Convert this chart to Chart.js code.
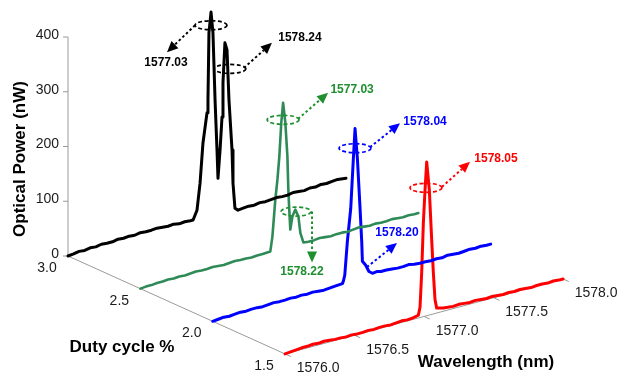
<!DOCTYPE html>
<html><head><meta charset="utf-8">
<script src="https://cdn.jsdelivr.net/npm/chart.js@4/dist/chart.umd.min.js"></script>
<style>html,body{margin:0;padding:0;background:#fff;}#wrap{width:620px;height:373px;}</style>
</head><body><div id="wrap"><canvas id="c" width="620" height="373"></canvas></div>
<script>
// ---------------- data ----------------
const dutyCycles = [3.0, 2.5, 2.0, 1.5];
const seriesColors = ['#000000', '#2e8b57', '#0000ff', '#ff0000'];

const wl30 = [1576.00,1576.04,1576.08,1576.12,1576.16,1576.20,1576.24,1576.28,1576.32,1576.36,1576.40,1576.44,1576.48,1576.52,1576.56,1576.60,1576.64,1576.68,1576.72,1576.76,1576.80,1576.84,1576.88,
  1576.90,1576.928,1576.95,1576.971,1577.000,1577.007,1577.014,1577.029,1577.043,1577.058,1577.072,1577.079,1577.094,1577.108,1577.115,1577.129,1577.144,1577.158,1577.180,1577.187,1577.201,1577.223,
  1577.26,1577.30,1577.34,1577.38,1577.42,1577.46,1577.50,1577.54,1577.58,1577.62,1577.66,1577.70,1577.74,1577.78,1577.82,1577.86,1577.90,1577.94,1578.00];
const pw30 = [0,1,3,2,4,3,5,4,4,6,5,6,5,7,6,6,7,6,5,6,4,5,4,
  4,20,68,140,193,216,338,375,336,212,120,68,119,178,240,312,298,206,113,52,5,0,
  1,2,1,3,2,3,4,3,3,5,4,3,5,4,6,5,6,7,5];

const wl25 = [1576.00,1576.04,1576.08,1576.12,1576.16,1576.20,1576.24,1576.28,1576.32,1576.36,1576.40,1576.44,1576.48,1576.52,1576.56,1576.60,1576.64,1576.68,1576.72,1576.76,1576.80,1576.84,1576.88,
  1576.935,1576.950,1576.971,1576.986,1577.000,1577.014,1577.027,1577.043,1577.058,1577.064,1577.070,1577.079,1577.094,1577.115,1577.137,1577.151,1577.173,1577.209,
  1577.25,1577.29,1577.33,1577.37,1577.41,1577.45,1577.49,1577.53,1577.57,1577.61,1577.65,1577.69,1577.73,1577.77,1577.81,1577.85,1577.89,1577.93,1577.97,1578.00];
const pw25 = [0,1,1,2,2,3,2,3,2,3,4,3,3,4,3,2,3,4,3,3,2,3,3,
  4,30,96,131,173,234,269,232,169,113,77,34,57,68,54,23,4,3,
  3,4,3,2,3,3,2,3,4,3,2,3,2,2,3,2,1,2,1,1];

const wl20 = [1576.00,1576.04,1576.08,1576.12,1576.16,1576.20,1576.24,1576.28,1576.32,1576.36,1576.40,1576.44,1576.48,1576.52,1576.56,1576.60,1576.64,1576.68,1576.72,1576.76,1576.80,1576.84,1576.88,
  1576.933,1576.940,1576.950,1576.969,1576.993,1577.012,1577.024,1577.041,1577.060,1577.072,1577.077,1577.101,1577.124,1577.149,
  1577.18,1577.21,1577.25,1577.29,1577.33,1577.37,1577.41,1577.45,1577.49,1577.53,1577.57,1577.61,1577.65,1577.69,1577.73,1577.77,1577.81,1577.85,1577.89,1577.93,1577.97,1578.00];
const pw20 = [0,1,2,1,2,3,2,3,3,2,3,4,3,3,4,3,4,3,4,3,2,3,4,
  5,9,19,80,138,228,282,226,134,73,36,27,14,9,
  10,8,8,7,6,6,7,5,4,4,3,4,3,5,4,3,4,5,4,5,4,4];

const wl15 = [1576.00,1576.04,1576.08,1576.12,1576.16,1576.20,1576.24,1576.28,1576.32,1576.36,1576.40,1576.44,1576.48,1576.52,1576.56,1576.60,1576.64,1576.68,1576.72,1576.76,1576.80,1576.84,1576.88,1576.92,
  1576.959,1576.971,1576.983,1576.995,1577.007,1577.019,1577.038,1577.055,1577.067,1577.079,1577.091,1577.139,
  1577.17,1577.21,1577.25,1577.29,1577.33,1577.37,1577.41,1577.45,1577.49,1577.53,1577.57,1577.61,1577.65,1577.69,1577.73,1577.77,1577.81,1577.85,1577.89,1577.93,1577.97,1578.00];
const pw15 = [0,1,2,3,3,4,3,4,3,2,2,1,2,1,1,2,1,2,2,1,2,3,2,3,
  5,19,81,171,230,281,228,136,75,25,9,6,
  5,4,5,4,3,4,3,2,3,2,1,2,1,2,1,0,1,1,0,1,0,0];

const seriesWl = [wl30, wl25, wl20, wl15];
const seriesPw = [pw30, pw25, pw20, pw15];

const powerTicks = [0, 100, 200, 300, 400];
const dutyTicks = [3.0, 2.5, 2.0, 1.5];
const wavelengthTicks = [1576.0, 1576.5, 1577.0, 1577.5, 1578.0];
const peakLabels = ['1577.03', '1578.24', '1577.03', '1578.22', '1578.04', '1578.20', '1578.05'];
const peakDuty   = [3.0, 3.0, 2.5, 2.5, 2.0, 2.0, 1.5];
const peakWl     = [1577.029, 1577.165, 1577.027, 1577.12, 1577.024, 1577.11, 1577.014];
const peakPower  = [351, 262, 238, 64, 246, 23, 234];

// ---------------- view (oblique projection) ----------------
const VIEW = {x0: 68, y0: 256, kxl: 139, kyl: 37.5, kxd: 144.7, kyd: 65.3, kp: 0.5475, wl0: 1576, d0: 3.0};
function proj(wl, d, p) {
  const a = wl - VIEW.wl0, b = VIEW.d0 - d;
  return {x: VIEW.x0 + a * VIEW.kxl + b * VIEW.kxd, y: VIEW.y0 - p * VIEW.kp - a * VIEW.kyl + b * VIEW.kyd};
}
const annColors = ['#000000', '#000000', '#1f8f2f', '#1f8f2f', '#0000ff', '#0000ff', '#ff0000'];
const annLayout = [
  {rx: 16, from: [-16, 0], tip: [-44, 27], label: [-45, 37]},
  {rx: 16, from: [14, -1], tip: [42, -26], label: [70, -31]},
  {rx: 16, from: [15, -1], tip: [45, -27], label: [69, -30]},
  {rx: 15, from: [16, 0], tip: [16, 51], label: [6, 60], drop: true},
  {rx: 16, from: [15, -1], tip: [45, -25], label: [70, -27]},
  {rx: 0, from: [0, 0], tip: [30, -24], label: [30, -34]},
  {rx: 16, from: [16, -1], tip: [44, -26], label: [70, -29]}
];

const datasets = dutyCycles.map((d, i) => ({
  label: d.toFixed(1) + ' %',
  data: seriesWl[i].map((w, k) => proj(w, d, seriesPw[i][k])),
  borderColor: seriesColors[i],
  borderWidth: i === 1 ? 2.6 : 3,
  pointRadius: 0,
  showLine: true,
  tension: 0,
  fill: false,
  borderJoinStyle: 'round',
  borderCapStyle: 'round',
  clip: false
}));

const FONT = '"Liberation Sans", Arial, sans-serif';

function px(chart, p) {
  return {x: chart.scales.x.getPixelForValue(p.x), y: chart.scales.y.getPixelForValue(p.y)};
}

const axesPlugin = {
  id: 'axes3d',
  beforeDatasetsDraw(chart) {
    const ctx = chart.ctx;
    ctx.save();
    ctx.strokeStyle = '#9a9a9a';
    ctx.lineWidth = 1;
    // power axis
    let a = px(chart, proj(1576, 3.0, 0)), b = px(chart, proj(1576, 3.0, 400));
    ctx.beginPath(); ctx.moveTo(a.x, a.y); ctx.lineTo(b.x, b.y); ctx.stroke();
    ctx.fillStyle = '#1a1a1a';
    ctx.font = '14px ' + FONT;
    ctx.textAlign = 'right'; ctx.textBaseline = 'middle';
    powerTicks.forEach(t => {
      const q = px(chart, proj(1576, 3.0, t));
      ctx.beginPath(); ctx.moveTo(q.x - 5, q.y); ctx.lineTo(q.x, q.y); ctx.stroke();
      ctx.fillText(String(t), q.x - 9, q.y - 2);
    });
    // duty axis
    a = px(chart, proj(1576, 3.0, 0)); b = px(chart, proj(1576, 1.5, 0));
    ctx.beginPath(); ctx.moveTo(a.x, a.y); ctx.lineTo(b.x, b.y); ctx.stroke();
    ctx.textAlign = 'center';
    dutyTicks.forEach(t => {
      const q = px(chart, proj(1576, t, 0));
      ctx.fillText(t.toFixed(1), q.x - 21, q.y + 12);
    });
    // wavelength axis
    a = px(chart, proj(1576, 1.5, 0)); b = px(chart, proj(1578, 1.5, 0));
    ctx.beginPath(); ctx.moveTo(a.x, a.y); ctx.lineTo(b.x, b.y); ctx.stroke();
    wavelengthTicks.forEach(t => {
      const q = px(chart, proj(t, 1.5, 0)), r = px(chart, proj(t, 1.46, 0));
      ctx.beginPath(); ctx.moveTo(q.x, q.y); ctx.lineTo(r.x, r.y); ctx.stroke();
      ctx.fillText(t.toFixed(1), q.x + 33, q.y + 14.5);
    });
    ctx.restore();
  },
  afterDatasetsDraw(chart) {
    const ctx = chart.ctx;
    ctx.save();
    // axis titles
    ctx.fillStyle = '#000';
    ctx.font = 'bold 17px ' + FONT;
    ctx.textAlign = 'center'; ctx.textBaseline = 'middle';
    ctx.save(); ctx.translate(20, 159); ctx.rotate(-Math.PI / 2); ctx.fillText('Optical Power (nW)', 0, 0); ctx.restore();
    ctx.fillText('Duty cycle %', 122, 347);
    ctx.fillText('Wavelength (nm)', 486, 362);
    // annotations
    peakLabels.forEach((txt, i) => {
      const L = annLayout[i], col = annColors[i];
      const c = px(chart, proj(peakWl[i], peakDuty[i], peakPower[i]));
      ctx.strokeStyle = col; ctx.fillStyle = col;
      if (L.rx > 0) {
        ctx.setLineDash([4, 2.5]); ctx.lineWidth = 1.7;
        ctx.beginPath(); ctx.ellipse(c.x, c.y, L.rx, 4.5, 0, 0, Math.PI * 2); ctx.stroke();
      }
      const x1 = c.x + L.from[0], y1 = c.y + L.from[1];
      const x2 = c.x + L.tip[0], y2 = c.y + L.tip[1];
      const ang = Math.atan2(y2 - y1, x2 - x1), hl = 11, hw = 5;
      const bx = x2 - hl * Math.cos(ang), by = y2 - hl * Math.sin(ang);
      ctx.setLineDash([2.5, 2.5]); ctx.lineWidth = 2;
      ctx.beginPath(); ctx.moveTo(x1, y1); ctx.lineTo(bx, by); ctx.stroke();
      ctx.setLineDash([]);
      ctx.beginPath();
      ctx.moveTo(x2, y2);
      ctx.lineTo(bx + hw * Math.sin(ang), by - hw * Math.cos(ang));
      ctx.lineTo(bx - hw * Math.sin(ang), by + hw * Math.cos(ang));
      ctx.closePath(); ctx.fill();
      ctx.font = 'bold 12px ' + FONT;
      ctx.fillText(txt, c.x + L.label[0], c.y + L.label[1]);
    });
    ctx.restore();
  }
};

new Chart(document.getElementById('c'), {
  type: 'scatter',
  data: {datasets},
  options: {
    responsive: false,
    animation: false,
    devicePixelRatio: 1,
    layout: {padding: 0},
    scales: {
      x: {type: 'linear', min: 0, max: 620, display: false},
      y: {type: 'linear', min: 0, max: 373, reverse: true, display: false}
    },
    plugins: {legend: {display: false}, tooltip: {enabled: false}}
  },
  plugins: [axesPlugin]
});
</script>
</body></html>
